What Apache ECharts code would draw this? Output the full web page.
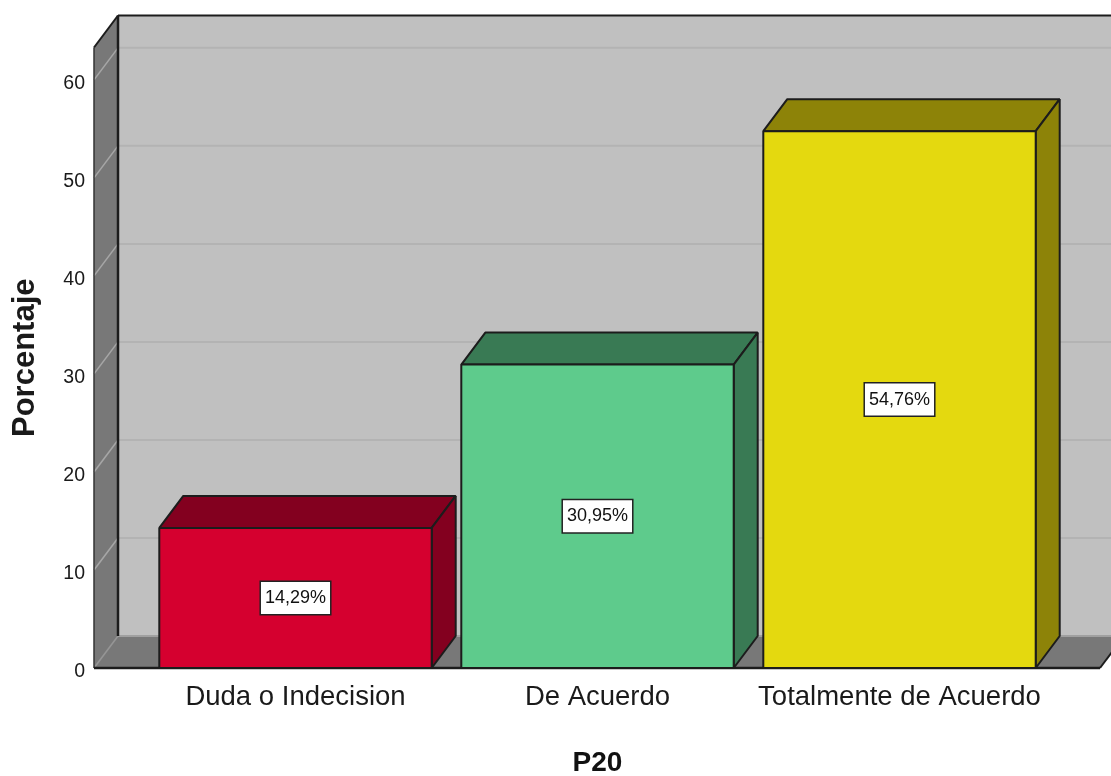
<!DOCTYPE html>
<html><head><meta charset="utf-8">
<style>html,body{margin:0;padding:0;background:#fff}#c{width:1111px;height:776px;filter:blur(0.45px)}</style>
<script src="https://cdn.jsdelivr.net/npm/echarts@6/dist/echarts.min.js"></script>
</head><body><div id="c"></div>
<script>
const categories = ['Duda o Indecision', 'De Acuerdo', 'Totalmente de Acuerdo'];
const percentages = [14.29, 30.95, 54.76];
const percentLabels = ['14,29%', '30,95%', '54,76%'];
const yTicks = [0, 10, 20, 30, 40, 50, 60];
const xTitle = 'P20';
const yTitle = 'Porcentaje';

const faceColors = ['#d5002f', '#5ecb8c', '#e4d90f'];
const sideColors = ['#83001f', '#397a54', '#8d8308'];
const DX = 24, DY = -32, EDGE = '#1c1c1c', FONT = '"Liberation Sans", Arial, sans-serif';

const chart = echarts.init(document.getElementById('c'), null, {renderer: 'canvas'});
const poly = (points, fill, stroke, lw) => ({
  type: 'polygon', shape: {points},
  style: {fill: fill || 'none', stroke: stroke || 'none', lineWidth: lw || 0, lineJoin: 'bevel'}
});
const line = (x1, y1, x2, y2, stroke, lw) => ({
  type: 'line', shape: {x1, y1, x2, y2}, style: {stroke, lineWidth: lw}
});
const WALL_L = -50.5, WALL_R = 49.5;

function renderWalls(params, api) {
  const g = params.coordSys;
  const x0 = g.x + WALL_L, x1 = g.x + g.width + WALL_R;
  const y0 = g.y + g.height, yT = g.y;
  return {type: 'group', children: [
    poly([[x0 + DX, yT + DY], [x1 + DX, yT + DY], [x1 + DX, y0 + DY], [x0 + DX, y0 + DY]], '#c0c0c0'),
    poly([[x0, yT], [x0 + DX, yT + DY], [x0 + DX, y0 + DY], [x0, y0]], '#787878'),
    poly([[x0, y0], [x0 + DX, y0 + DY], [x1 + DX, y0 + DY], [x1, y0]], '#787878')
  ]};
}
function renderGrid(params, api) {
  const g = params.coordSys;
  const x0 = g.x + WALL_L, x1 = g.x + g.width + WALL_R;
  const y = api.coord([0, api.value(0)])[1];
  return {type: 'group', children: [
    line(x0, y, x0 + DX, y + DY, api.value(0) === 0 ? '#959595' : '#a6a6a6', 1.5),
    line(x0 + DX, y + DY, x1 + DX, y + DY, api.value(0) === 0 ? '#a0a0a0' : '#b3b3b3', 2)
  ]};
}
function renderFrame(params, api) {
  const g = params.coordSys;
  const x0 = g.x + WALL_L, x1 = g.x + g.width + WALL_R;
  const y0 = g.y + g.height, yT = g.y;
  return {type: 'group', children: [
    line(x0 + DX, yT + DY, x0 + DX, y0 + DY, EDGE, 2.5),
    line(x0 + DX, yT + DY, x1 + DX, yT + DY, EDGE, 2),
    line(x0, yT, x0 + DX, yT + DY, EDGE, 2),
    line(x0, yT, x0, y0, '#333', 1.5),
    line(x0, y0, x1, y0, EDGE, 2.5),
    line(x1, y0, x1 + DX, y0 + DY, EDGE, 2)
  ]};
}
function renderBar(params, api) {
  const i = api.value(0), v = api.value(1);
  const w = api.size([1, 0])[0] * 0.902;
  const top = api.coord([i, v]), base = api.coord([i, 0]);
  const l = top[0] - w / 2, r = top[0] + w / 2;
  return {type: 'group', children: [
    poly([[l, top[1]], [l + DX, top[1] + DY], [r + DX, top[1] + DY], [r, top[1]]], sideColors[i], EDGE, 2),
    poly([[r, top[1]], [r + DX, top[1] + DY], [r + DX, base[1] + DY], [r, base[1]]], sideColors[i], EDGE, 2),
    poly([[l, top[1]], [r, top[1]], [r, base[1]], [l, base[1]]], faceColors[i], EDGE, 2),
    {type: 'text', style: {
      x: top[0], y: (top[1] + base[1]) / 2, text: percentLabels[i],
      align: 'center', verticalAlign: 'middle', fill: '#111',
      font: '18px ' + FONT, backgroundColor: '#fff', borderColor: '#222', borderWidth: 1.5,
      padding: [7, 4, 7, 4]
    }}
  ]};
}

chart.setOption({
  animation: false,
  backgroundColor: '#fff',
  grid: {left: 144.5, right: 60.5, top: 47.5, bottom: 108, outerBoundsMode: 'none'},
  xAxis: {
    type: 'category', data: categories,
    name: xTitle, nameLocation: 'middle', nameGap: 81, nameMoveOverlap: false,
    nameTextStyle: {fontFamily: FONT, fontSize: 28, fontWeight: 'bold', color: '#111'},
    axisLine: {show: false}, axisTick: {show: false},
    axisLabel: {fontFamily: FONT, fontSize: 27.5, color: '#1a1a1a', margin: 15, interval: 0}
  },
  yAxis: {
    type: 'value', min: 0, max: 63.3, interval: 10, offset: 50.5,
    name: yTitle, nameLocation: 'middle', nameGap: 69, nameRotate: 90, nameMoveOverlap: false,
    nameTextStyle: {fontFamily: FONT, fontSize: 31, fontWeight: 'bold', color: '#1a1a1a',
      verticalAlign: 'middle'},
    axisLine: {show: false}, axisTick: {show: false}, splitLine: {show: false},
    axisLabel: {fontFamily: FONT, fontSize: 19.5, color: '#1a1a1a', margin: 9,
      verticalAlign: 'top', lineHeight: 7, showMaxLabel: false, formatter: v => String(v)}
  },
  series: [
    {type: 'custom', renderItem: renderWalls, data: [[0]], silent: true, z: 1},
    {type: 'custom', renderItem: renderGrid, data: yTicks.map(t => [t]), encode: {y: 0}, silent: true, z: 2},
    {type: 'custom', renderItem: renderFrame, data: [[0]], silent: true, z: 3},
    {type: 'custom', renderItem: renderBar, data: percentages.map((v, i) => [i, v]),
     encode: {x: 0, y: 1}, z: 4}
  ]
});
</script></body></html>
